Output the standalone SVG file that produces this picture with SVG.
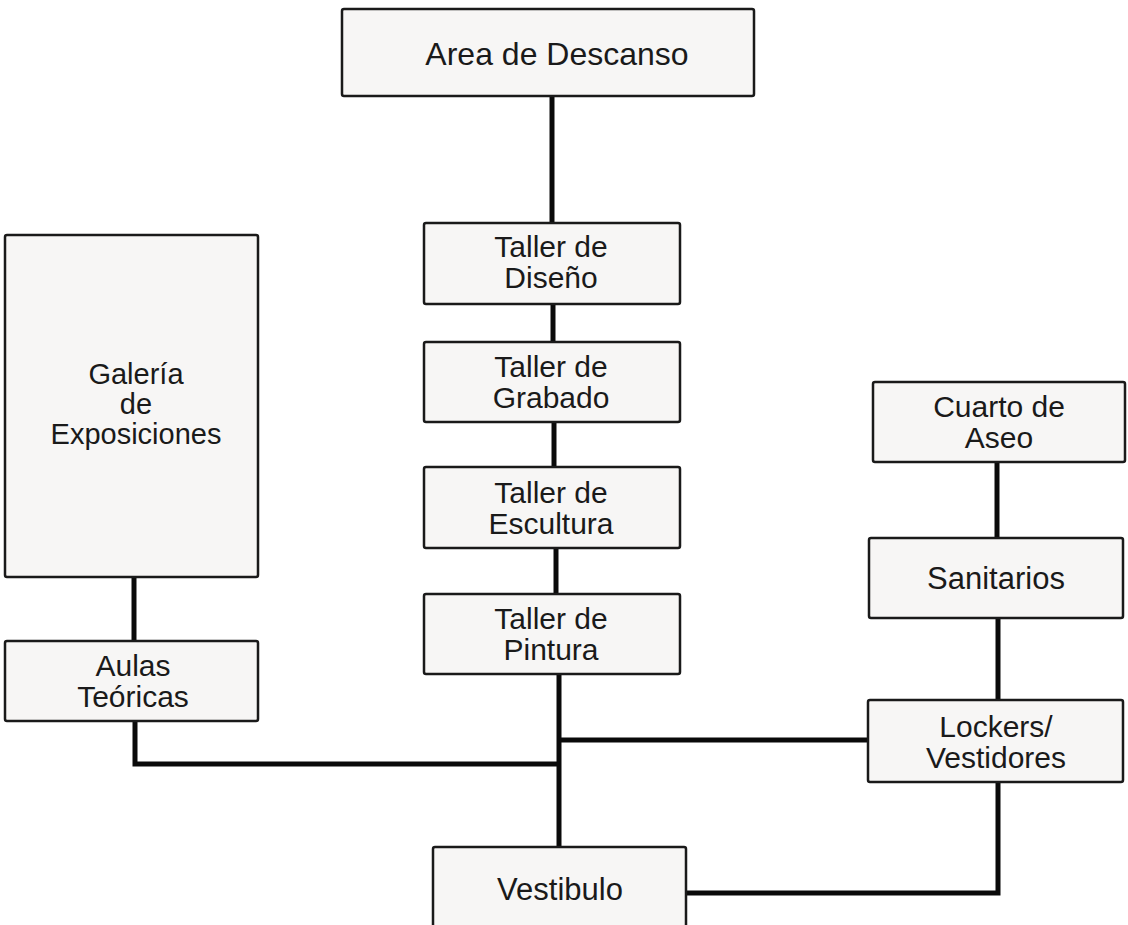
<svg xmlns="http://www.w3.org/2000/svg" width="1128" height="925" viewBox="0 0 1128 925">
<style>
.box{fill:#f7f6f5;stroke:#1a1a1a;stroke-width:2.5}
.t{font-family:"Liberation Sans",Arial,Helvetica,sans-serif;font-size:30px;fill:#1a1a1a;text-anchor:middle}
.s{font-size:31px}
.g{font-size:29px}
.c{fill:none;stroke:#0a0a0a;stroke-width:5;stroke-linecap:butt;stroke-linejoin:miter}
</style>
<rect width="1128" height="925" fill="#ffffff"/>
<g id="connectors">
<line class="c" x1="552" y1="96" x2="552" y2="223"/>
<line class="c" x1="553" y1="304" x2="553" y2="342"/>
<line class="c" x1="554" y1="422" x2="554" y2="467"/>
<line class="c" x1="556" y1="548" x2="556" y2="594"/>
<line class="c" x1="559" y1="674" x2="559" y2="847"/>
<line class="c" x1="559" y1="740" x2="868" y2="740"/>
<polyline class="c" points="135,721 135,764 559,764"/>
<line class="c" x1="134" y1="577" x2="134" y2="641"/>
<line class="c" x1="997" y1="462" x2="997" y2="538"/>
<line class="c" x1="998" y1="618" x2="998" y2="700"/>
<polyline class="c" points="686,893 998,893 998,782"/>
</g>
<g id="area-descanso"><rect class="box" x="342" y="9" width="412" height="87" rx="2"/><text class="t" x="557" y="65" style="font-size:32px">Area de Descanso</text></g>
<g id="galeria"><rect class="box" x="5" y="235" width="253" height="342" rx="2"/><text class="t g" x="136" y="384">Galería</text><text class="t g" x="136" y="414">de</text><text class="t g" x="136" y="444">Exposiciones</text></g>
<g id="aulas"><rect class="box" x="5" y="641" width="253" height="80" rx="2"/><text class="t" x="133" y="676">Aulas</text><text class="t" x="133" y="707">Teóricas</text></g>
<g id="taller-diseno"><rect class="box" x="424" y="223" width="256" height="81" rx="2"/><text class="t" x="551" y="257">Taller de</text><text class="t" x="551" y="288">Diseño</text></g>
<g id="taller-grabado"><rect class="box" x="424" y="342" width="256" height="80" rx="2"/><text class="t" x="551" y="377">Taller de</text><text class="t" x="551" y="408">Grabado</text></g>
<g id="taller-escultura"><rect class="box" x="424" y="467" width="256" height="81" rx="2"/><text class="t" x="551" y="503">Taller de</text><text class="t" x="551" y="534">Escultura</text></g>
<g id="taller-pintura"><rect class="box" x="424" y="594" width="256" height="80" rx="2"/><text class="t" x="551" y="629">Taller de</text><text class="t" x="551" y="660">Pintura</text></g>
<g id="cuarto-aseo"><rect class="box" x="873" y="382" width="252" height="80" rx="2"/><text class="t" x="999" y="417">Cuarto de</text><text class="t" x="999" y="448">Aseo</text></g>
<g id="sanitarios"><rect class="box" x="869" y="538" width="254" height="80" rx="2"/><text class="t s" x="996" y="589">Sanitarios</text></g>
<g id="lockers"><rect class="box" x="868" y="700" width="255" height="82" rx="2"/><text class="t" x="996" y="737">Lockers/</text><text class="t" x="996" y="768">Vestidores</text></g>
<g id="vestibulo"><rect class="box" x="433" y="847" width="253" height="100" rx="2"/><text class="t s" x="560" y="900">Vestibulo</text></g>
</svg>
